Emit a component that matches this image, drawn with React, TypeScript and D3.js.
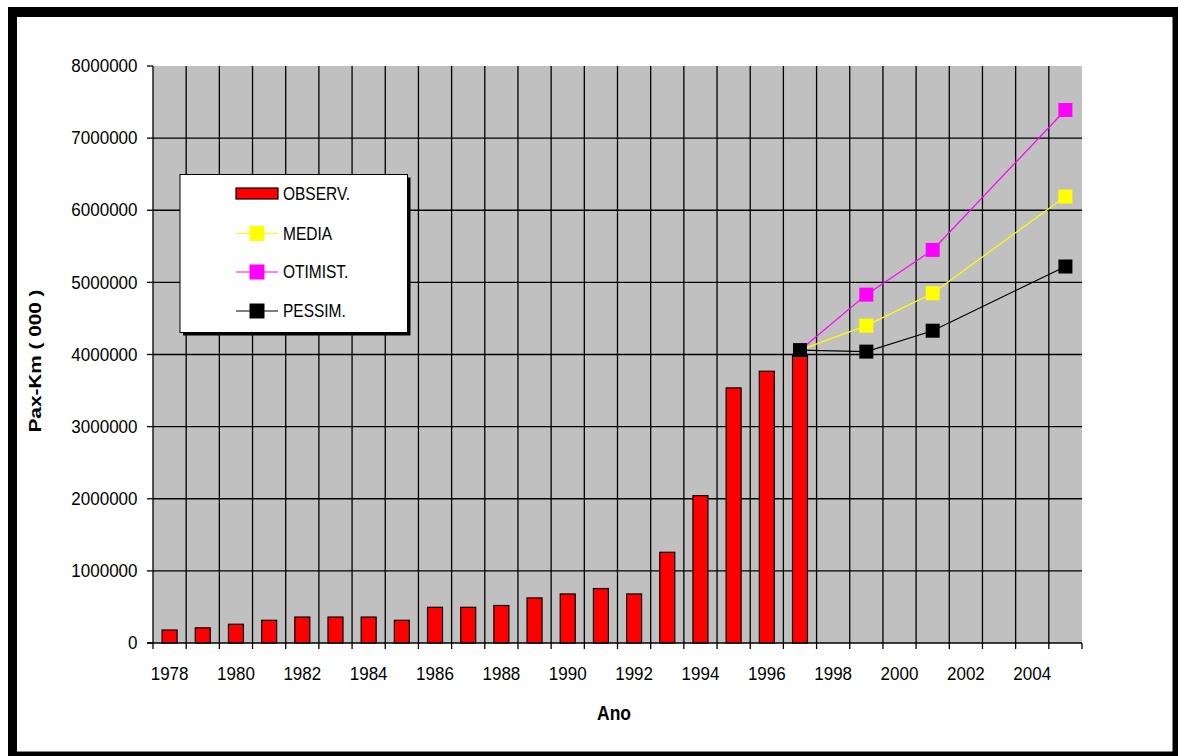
import React from "react";
import * as d3 from "d3";

// Categories on the horizontal axis (one band per year)
const years: number[] = [
  1978, 1979, 1980, 1981, 1982, 1983, 1984, 1985, 1986, 1987,
  1988, 1989, 1990, 1991, 1992, 1993, 1994, 1995, 1996, 1997,
  1998, 1999, 2000, 2001, 2002, 2003, 2004, 2005,
];
const yearTickLabels: number[] = [1978, 1980, 1982, 1984, 1986, 1988, 1990, 1992, 1994, 1996, 1998, 2000, 2002, 2004];
const valueTicks: number[] = [0, 1000000, 2000000, 3000000, 4000000, 5000000, 6000000, 7000000, 8000000];

// Observed passenger-km (thousands), 1978–1997
const observedYears: number[] = [
  1978, 1979, 1980, 1981, 1982, 1983, 1984, 1985, 1986, 1987,
  1988, 1989, 1990, 1991, 1992, 1993, 1994, 1995, 1996, 1997,
];
const observed: number[] = [
  180000, 210000, 260000, 315000, 360000, 360000, 360000, 315000, 495000, 495000,
  520000, 625000, 680000, 755000, 680000, 1258000, 2043000, 3537000, 3768000, 4000000,
];

// Projection scenarios
const projYears: number[] = [1997, 1999, 2001, 2005];
const media: number[] = [4060000, 4400000, 4850000, 6190000];
const otimist: number[] = [4060000, 4830000, 5450000, 7390000];
const pessim: number[] = [4060000, 4040000, 4330000, 5220000];

const FONT = "'Liberation Sans', Arial, Helvetica, sans-serif";

const W = 1178;
const H = 756;
const left = 153;
const right = 1082;
const top = 66;
const bottom = 643;

const x = d3.scaleBand<number>().domain(years).range([left, right]).padding(0);
const y = d3.scaleLinear().domain([0, 8000000]).range([bottom, top]);
const bw = x.bandwidth();
const cx = (yr: number) => (x(yr) as number) + bw / 2;

const series = [
  { name: "MEDIA", color: "#FFFF00", values: media },
  { name: "OTIMIST.", color: "#FF00FF", values: otimist },
  { name: "PESSIM.", color: "#000000", values: pessim },
];

const line = d3
  .line<number>()
  .x((_, i) => cx(projYears[i]))
  .y((v) => y(v));

function STxt(props: {
  x: number;
  y: number;
  sy: number;
  size: number;
  anchor?: string;
  bold?: boolean;
  children: React.ReactNode;
}) {
  return (
    <g transform={`translate(${props.x},${props.y}) scale(1,${props.sy})`}>
      <text
        x={0}
        y={0}
        fontFamily={FONT}
        fontSize={props.size}
        fontWeight={props.bold ? "bold" : "normal"}
        textAnchor={props.anchor || "start"}
        fill="#000"
      >
        {props.children}
      </text>
    </g>
  );
}

export default function App() {
  const boundaries = years.map((yr) => x(yr) as number).concat([right]);
  const marker = 14;
  const barW = 15;

  const legendRows = [
    { name: "OBSERV.", kind: "bar", color: "#FF0000", yc: 193.5 },
    { name: "MEDIA", kind: "line", color: "#FFFF00", yc: 233.5 },
    { name: "OTIMIST.", kind: "line", color: "#FF00FF", yc: 272 },
    { name: "PESSIM.", kind: "line", color: "#000000", yc: 311 },
  ];

  return (
    <svg
      width={W}
      height={H}
      style={{ position: "absolute", left: 0, top: 0, display: "block" }}
    >
      {/* outer frame */}
      <rect x={0} y={0} width={W} height={H} fill="#fff" />
      <rect x={8} y={7} width={W - 8} height={H - 7} fill="#000" />
      <rect x={17} y={17} width={1155.5} height={734.5} fill="#fff" />

      {/* plot background */}
      <rect x={left} y={top} width={right - left} height={bottom - top} fill="#C0C0C0" />

      {/* horizontal grid lines */}
      {valueTicks
        .filter((v) => v > 0 && v < 8000000)
        .map((v) => (
          <line key={"h" + v} x1={left} x2={right} y1={y(v)} y2={y(v)} stroke="#000" strokeWidth={1.3} />
        ))}
      {/* vertical grid lines at category boundaries */}
      {boundaries.slice(1, -1).map((bx, i) => (
        <line key={"v" + i} x1={bx} x2={bx} y1={top} y2={bottom} stroke="#000" strokeWidth={1.3} />
      ))}

      {/* bars */}
      {observed.map((v, i) => (
        <rect
          key={"b" + i}
          x={cx(observedYears[i]) - barW / 2}
          y={y(v)}
          width={barW}
          height={bottom - y(v)}
          fill="#FF0000"
          stroke="#000"
          strokeWidth={1.2}
        />
      ))}

      {/* projection lines */}
      {series.map((s) => (
        <g key={s.name}>
          <path d={line(s.values) || ""} fill="none" stroke={s.color} strokeWidth={1.2} />
          {s.values.map((v, i) => (
            <rect
              key={i}
              x={cx(projYears[i]) - marker / 2}
              y={y(v) - marker / 2}
              width={marker}
              height={marker}
              fill={s.color}
            />
          ))}
        </g>
      ))}

      {/* axes */}
      <line x1={left} x2={left} y1={top} y2={bottom + 0.5} stroke="#000" strokeWidth={1.3} />
      <line x1={left - 6} x2={right} y1={bottom} y2={bottom} stroke="#000" strokeWidth={1.3} />
      {valueTicks.map((v) => (
        <g key={"yt" + v}>
          <line x1={left - 6} x2={left} y1={y(v)} y2={y(v)} stroke="#000" strokeWidth={1.3} />
          <STxt x={137.5} y={y(v) + 6.2} sy={1.08} size={17} anchor="end">
            {v}
          </STxt>
        </g>
      ))}
      {boundaries.map((bx, i) => (
        <line key={"xt" + i} x1={bx} x2={bx} y1={bottom} y2={bottom + 6} stroke="#000" strokeWidth={1.3} />
      ))}
      {yearTickLabels.map((yr) => (
        <STxt key={"xl" + yr} x={cx(yr)} y={679.5} sy={1.08} size={17} anchor="middle">
          {yr}
        </STxt>
      ))}

      {/* axis titles */}
      <STxt x={614} y={719.5} sy={1.12} size={17.5} anchor="middle" bold>
        Ano
      </STxt>
      <text
        transform="translate(40.5,361) rotate(-90)"
        fontFamily={FONT}
        fontSize={17}
        fontWeight="bold"
        textAnchor="middle"
        textLength={143}
        lengthAdjust="spacingAndGlyphs"
      >
        Pax-Km ( 000 )
      </text>

      {/* legend */}
      <rect x={183} y={177.5} width={227.5} height={158} fill="#000" />
      <rect x={180} y={174.5} width={227.5} height={158} fill="#fff" stroke="#000" strokeWidth={1} />
      {legendRows.map((r) => (
        <g key={"lg" + r.name}>
          {r.kind === "bar" ? (
            <rect x={236} y={r.yc - 5.5} width={42} height={11} fill={r.color} stroke="#000" strokeWidth={1.2} />
          ) : (
            <g>
              <line x1={236} x2={278} y1={r.yc} y2={r.yc} stroke={r.color} strokeWidth={1.2} />
              <rect x={257 - 7.5} y={r.yc - 7.5} width={15} height={15} fill={r.color} />
            </g>
          )}
          <STxt x={283} y={r.yc + 6.3} sy={1.16} size={15.5}>
            {r.name}
          </STxt>
        </g>
      ))}
    </svg>
  );
}
